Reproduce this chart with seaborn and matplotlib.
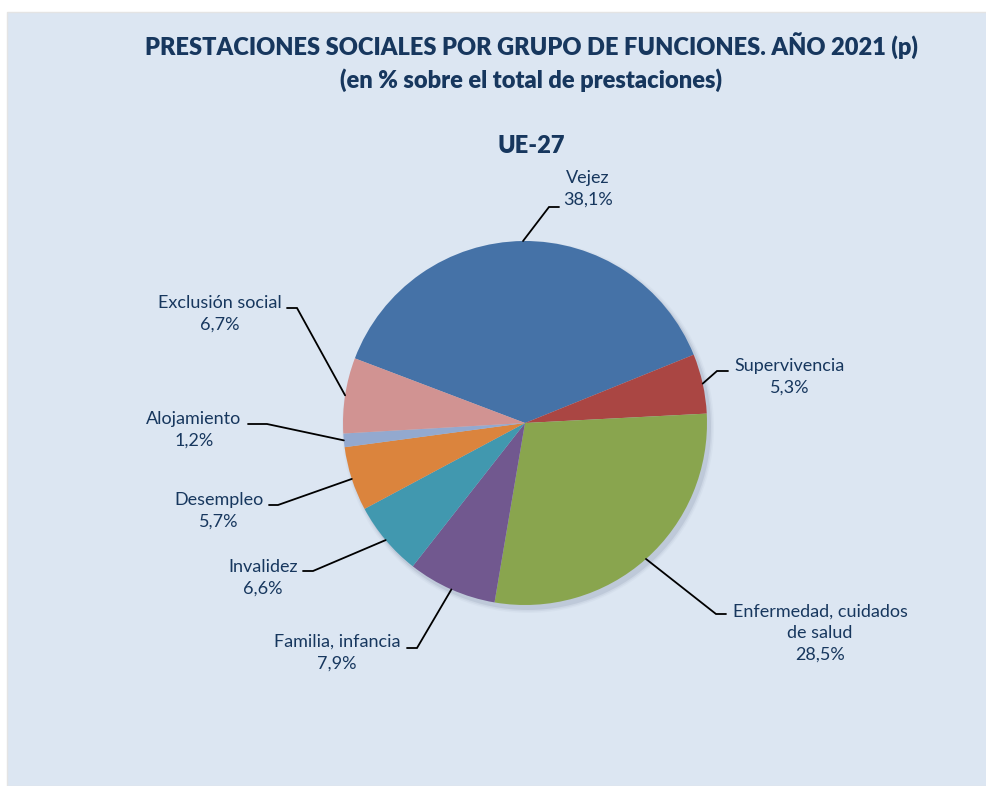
import matplotlib.pyplot as plt
import seaborn as sns
import numpy as np
from matplotlib.patches import Rectangle, Circle

sns.set_theme(style="white")
plt.rcParams['font.family'] = ['Lato', 'DejaVu Sans']

# Datos (UE-27, 2021 provisional)
funciones = ["Vejez", "Supervivencia", "Enfermedad, cuidados\nde salud", "Familia, infancia",
             "Invalidez", "Desempleo", "Alojamiento", "Exclusión social"]
porcentajes = [38.1, 5.3, 28.5, 7.9, 6.6, 5.7, 1.2, 6.7]
colores = ["#4572A7", "#AA4643", "#89A54E", "#71588F",
           "#4198AF", "#DB843D", "#93A9CF", "#D19392"]

# label layout (pixel coords: text centre, end of diagonal, end of horizontal tick)
pos_texto = [(588, 189), (790, 377), (820, 633), (337, 653),
             (263, 578), (219, 511), (194, 430), (220, 314)]
codo = [(549, 207), (717, 371), (716, 614), (417, 648),
        (313, 571), (278, 505), (267, 424), (297, 308)]
fin = [(559, 207), (728, 371), (726, 614), (407, 648),
       (303, 571), (269, 505), (248, 424), (287, 308)]

W, H = 987, 786
navy = "#17375E"

fig = plt.figure(figsize=(W / 100, H / 100), dpi=100)
fig.patch.set_facecolor("white")
ax = fig.add_axes([0, 0, 1, 1])

# panel background
ax.add_patch(Rectangle((7, 0), W - 7, H - 12, facecolor="#DCE6F2", edgecolor="#E4E4E4", lw=1, zorder=0))

cx, cy, r = 525, H - 423, 182
start = 159.2

# soft shadow
for dr, a in [(4, 0.06), (2.5, 0.1), (1, 0.18)]:
    ax.add_patch(Circle((cx + 3, cy - 4), r + dr, facecolor="#7f8ea3", alpha=a, lw=0, zorder=1))

wedges, _ = ax.pie(porcentajes, colors=colores, startangle=start, counterclock=False,
                   center=(cx, cy), radius=r, wedgeprops=dict(linewidth=0), frame=True)
for w in wedges:
    w.set_zorder(2)
ax.set_xlim(0, W)
ax.set_ylim(0, H)
ax.set_aspect("equal")
ax.axis("off")

# labels + leader lines
for w, lab, val, (tx, ty), (ex, ey), (fx, fy) in zip(wedges, funciones, porcentajes, pos_texto, codo, fin):
    mid = np.deg2rad((w.theta1 + w.theta2) / 2)
    px, py = cx + r * np.cos(mid), cy + r * np.sin(mid)
    ax.plot([px, ex, fx], [py, H - ey, H - fy], color="black", lw=1.3, zorder=3,
            solid_joinstyle="miter")
    txt = lab + "\n" + f"{val:.1f}".replace(".", ",") + "%"
    ax.text(tx, H - ty, txt, ha="center", va="center", multialignment="center",
            fontsize=13, color=navy, linespacing=1.45, zorder=4)

fig.text(531 / W, 1 - 46 / H, "PRESTACIONES SOCIALES POR GRUPO DE FUNCIONES. AÑO 2021 (p)",
         ha="center", va="center", fontsize=17, fontweight="heavy", color=navy)
fig.text(531 / W, 1 - 80 / H, "(en % sobre el total de prestaciones)",
         ha="center", va="center", fontsize=17, fontweight="heavy", color=navy)
fig.text(531 / W, 1 - 146 / H, "UE-27", ha="center", va="center",
         fontsize=17, fontweight="heavy", color=navy)

fig.savefig("out.png", dpi=100)
